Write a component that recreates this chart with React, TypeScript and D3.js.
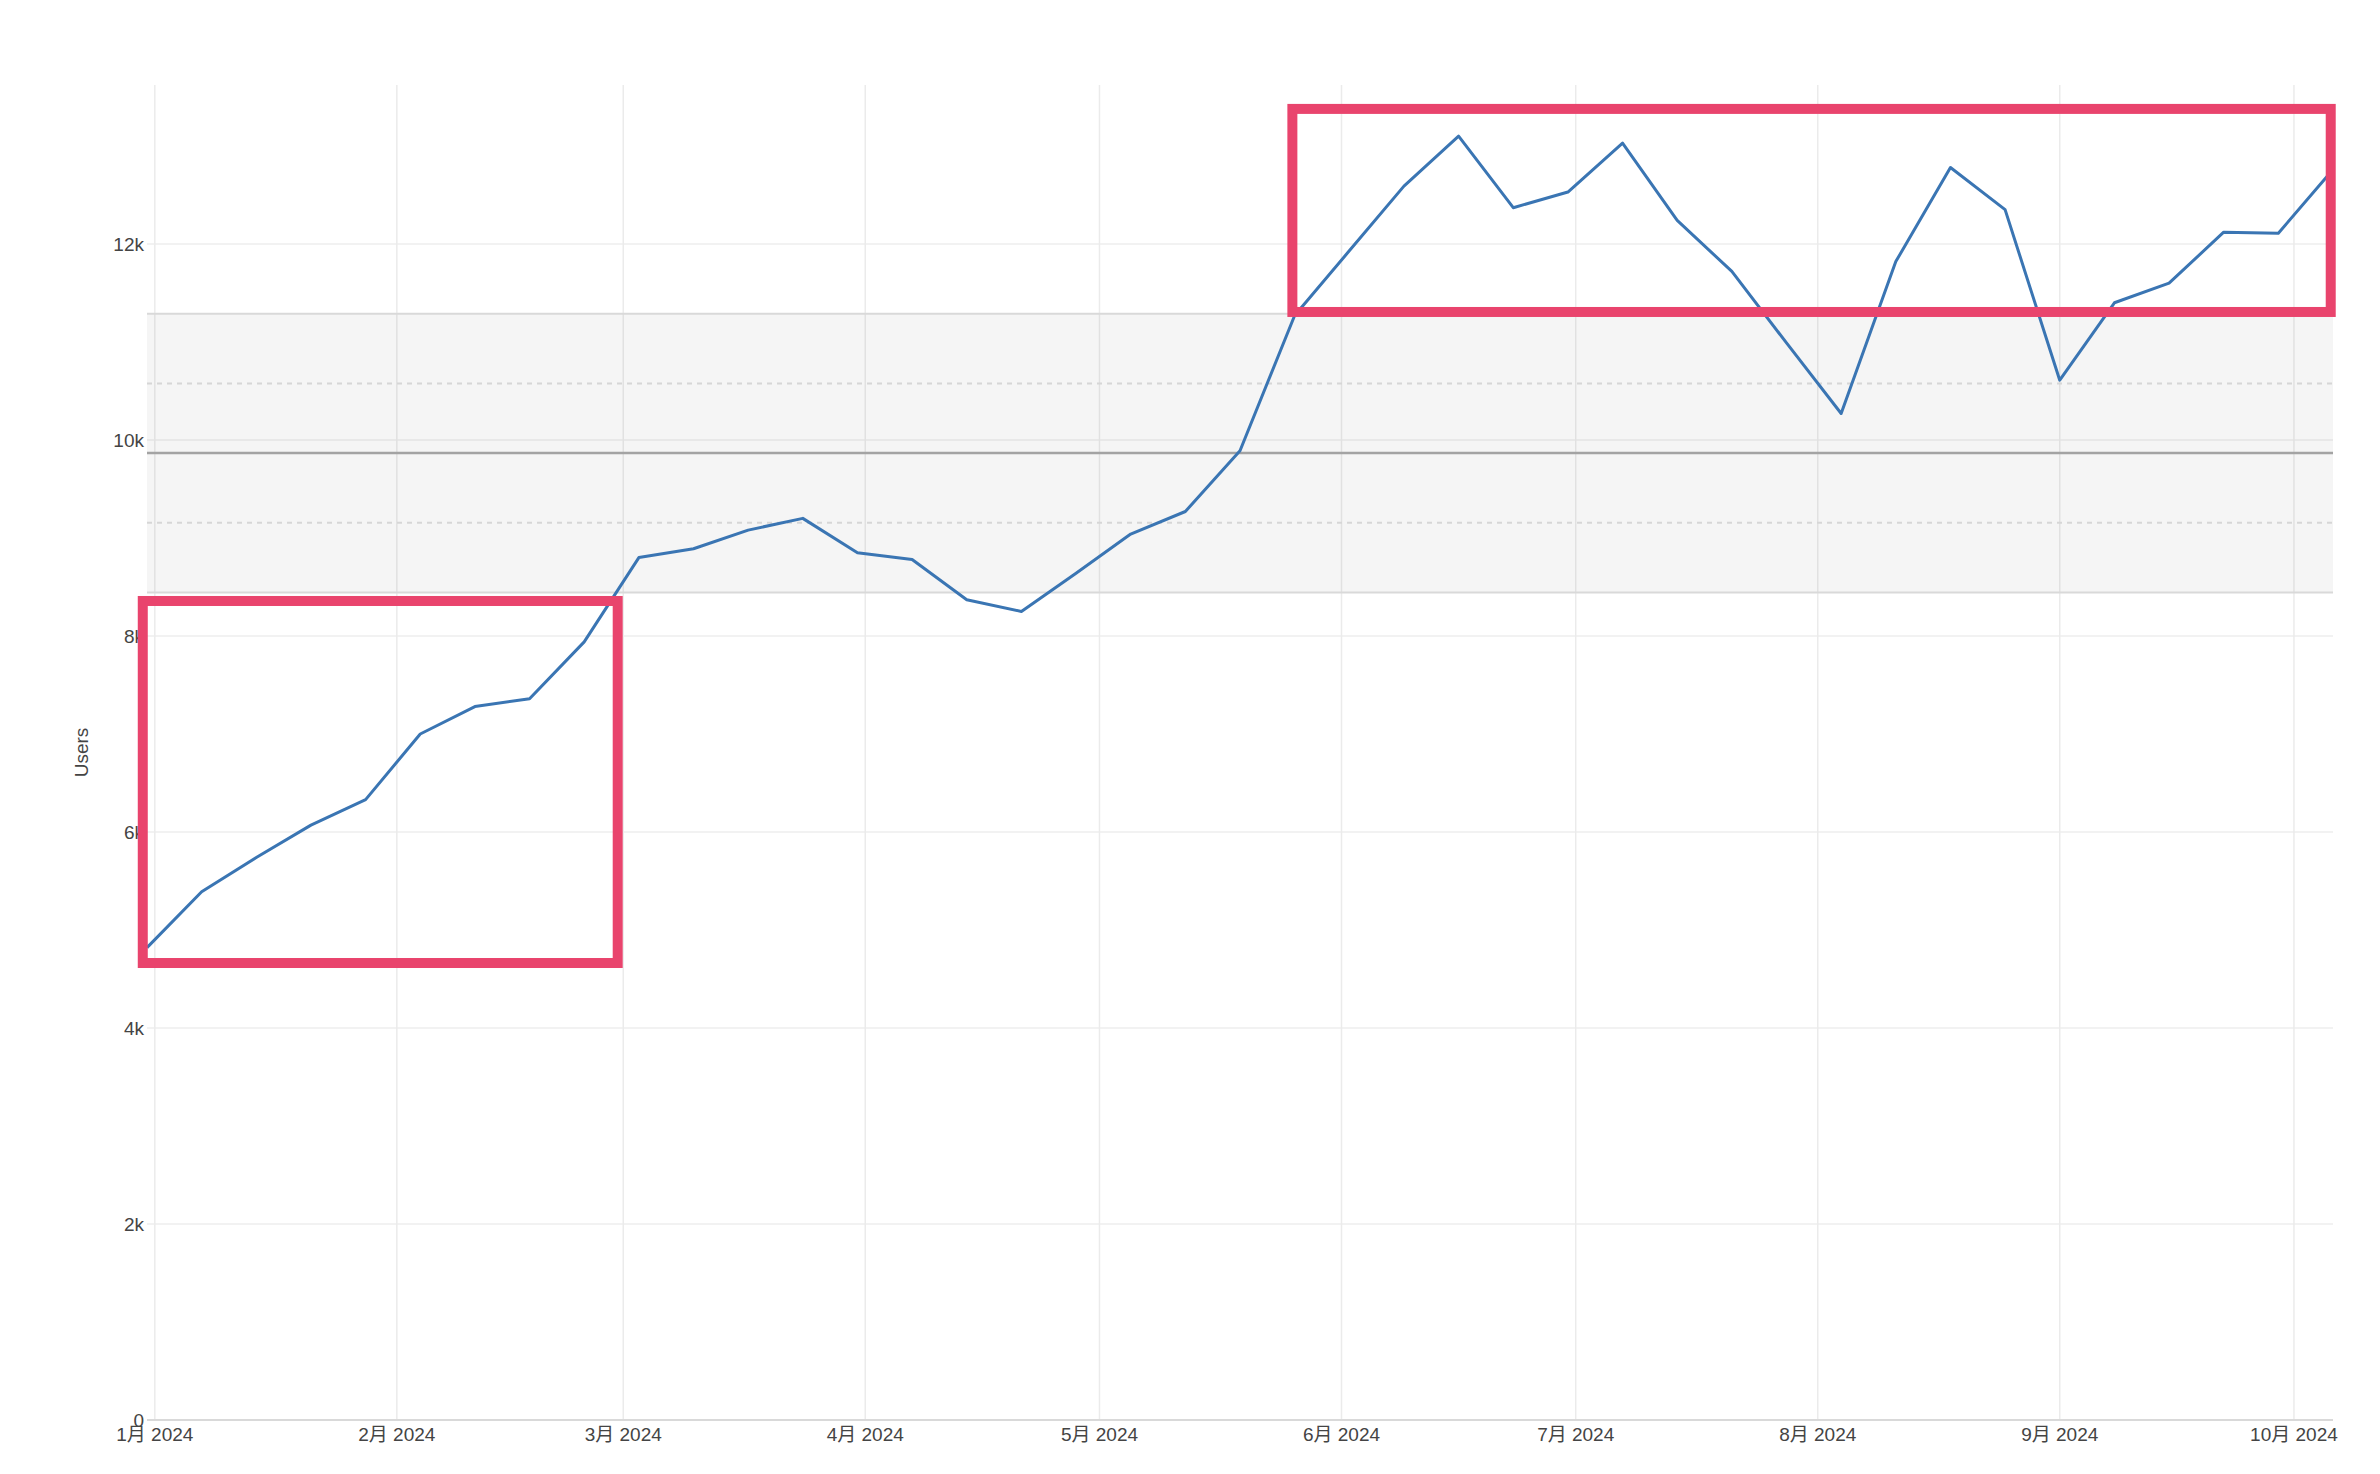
import React, { useEffect } from "react";
import * as d3 from "d3";

// ---- data ----
const weekDates: string[] = [
  "2023-12-31", "2024-01-07", "2024-01-14", "2024-01-21", "2024-01-28",
  "2024-02-04", "2024-02-11", "2024-02-18", "2024-02-25",
  "2024-03-03", "2024-03-10", "2024-03-17", "2024-03-24", "2024-03-31",
  "2024-04-07", "2024-04-14", "2024-04-21", "2024-04-28",
  "2024-05-05", "2024-05-12", "2024-05-19", "2024-05-26",
  "2024-06-02", "2024-06-09", "2024-06-16", "2024-06-23", "2024-06-30",
  "2024-07-07", "2024-07-14", "2024-07-21", "2024-07-28",
  "2024-08-04", "2024-08-11", "2024-08-18", "2024-08-25",
  "2024-09-01", "2024-09-08", "2024-09-15", "2024-09-22", "2024-09-29",
  "2024-10-06",
];

const users: number[] = [
  4820, 5390, 5740, 6070, 6330, 7000, 7280, 7360, 7940,
  8800, 8890, 9080, 9200, 8850, 8780, 8370, 8250, 8640,
  9040, 9270, 9890, 11270, 11930, 12590, 13100, 12370, 12530,
  13030, 12240, 11720, 10990, 10270, 11820, 12780, 12350,
  10610, 11400, 11600, 12120, 12110, 12760,
];

const monthTicks: string[] = [
  "2024-01-01", "2024-02-01", "2024-03-01", "2024-04-01", "2024-05-01",
  "2024-06-01", "2024-07-01", "2024-08-01", "2024-09-01", "2024-10-01",
];
const monthLabels: string[] = [
  "1月 2024", "2月 2024", "3月 2024", "4月 2024", "5月 2024",
  "6月 2024", "7月 2024", "8月 2024", "9月 2024", "10月 2024",
];

const yTicks: number[] = [0, 2000, 4000, 6000, 8000, 10000, 12000];
const yTickLabels: string[] = ["0", "2k", "4k", "6k", "8k", "10k", "12k"];

// control band: mean, ±1 sigma (dotted), ±2 sigma (solid edges)
const bandMean = 9866;
const bandSigma = 711;

// highlight boxes (data space)
const boxX0: string[] = ["2023-12-30T11:00", "2024-05-25T17:00"];
const boxX1: string[] = ["2024-02-29T07:00", "2024-10-05T17:00"];
const boxY0: number[] = [4663, 11306];
const boxY1: number[] = [8357, 13378];

const yAxisTitle = "Users";

// ---- layout ----
const W = 2380;
const H = 1474;
const plotLeft = 147;
const plotRight = 2333;
const plotTop = 85;
const plotBottom = 1420;

const FONT = "'Liberation Sans', Arial, Helvetica, 'Noto Sans CJK SC', sans-serif";

export default function App() {
  useEffect(() => {
    document.body.style.margin = "0";
  }, []);

  const parse = (s: string) => new Date(s);
  const dates = weekDates.map(parse);

  const x = d3
    .scaleTime()
    .domain([dates[0], dates[dates.length - 1]])
    .range([plotLeft, plotRight]);
  const y = d3.scaleLinear().domain([0, 13622]).range([plotBottom, plotTop]);

  const line = d3
    .line<number>()
    .x((_, i) => x(dates[i]))
    .y((d) => y(d));

  const pathD = line(users) || "";

  const bandLines = [
    { v: bandMean + 2 * bandSigma, stroke: "#d9d9d9", dash: "none", w: 2 },
    { v: bandMean + bandSigma, stroke: "#d6d6d6", dash: "5,5", w: 2 },
    { v: bandMean, stroke: "#a3a3a3", dash: "none", w: 2.5 },
    { v: bandMean - bandSigma, stroke: "#d6d6d6", dash: "5,5", w: 2 },
    { v: bandMean - 2 * bandSigma, stroke: "#d9d9d9", dash: "none", w: 2 },
  ];

  return (
    <div style={{ position: "absolute", left: 0, top: 0, width: W, height: H }}>
      <svg width={W} height={H} style={{ display: "block" }} fontFamily={FONT}>
        <rect x={0} y={0} width={W} height={H} fill="#ffffff" />

        {/* horizontal grid */}
        {yTicks.map((t) => (
          <line
            key={"hg" + t}
            x1={plotLeft}
            x2={plotRight}
            y1={y(t)}
            y2={y(t)}
            stroke="#eeeeee"
            strokeWidth={1.5}
          />
        ))}
        {/* vertical grid */}
        {monthTicks.map((m) => (
          <line
            key={"vg" + m}
            x1={x(parse(m))}
            x2={x(parse(m))}
            y1={plotTop}
            y2={plotBottom}
            stroke="#ebebeb"
            strokeWidth={1.5}
          />
        ))}

        {/* control band */}
        <rect
          x={plotLeft}
          width={plotRight - plotLeft}
          y={y(bandMean + 2 * bandSigma)}
          height={y(bandMean - 2 * bandSigma) - y(bandMean + 2 * bandSigma)}
          fill="rgba(0,0,0,0.04)"
        />
        {bandLines.map((b, i) => (
          <line
            key={"bl" + i}
            x1={plotLeft}
            x2={plotRight}
            y1={y(b.v)}
            y2={y(b.v)}
            stroke={b.stroke}
            strokeWidth={b.w}
            strokeDasharray={b.dash}
          />
        ))}

        {/* x axis line */}
        <line
          x1={plotLeft}
          x2={plotRight}
          y1={plotBottom}
          y2={plotBottom}
          stroke="#d9d9d9"
          strokeWidth={2}
        />

        {/* y tick labels */}
        {yTicks.map((t, i) => (
          <text
            key={"yt" + t}
            x={plotLeft - 3}
            y={y(t)}
            dy="0.35em"
            textAnchor="end"
            fontSize={19}
            fill="#444"
          >
            {yTickLabels[i]}
          </text>
        ))}

        {/* x tick labels */}
        {monthTicks.map((m, i) => (
          <text
            key={"xt" + m}
            x={x(parse(m))}
            y={plotBottom + 21}
            textAnchor="middle"
            fontSize={19}
            fill="#444"
          >
            {monthLabels[i]}
          </text>
        ))}

        {/* y axis title */}
        <text
          transform={`translate(88, ${(plotTop + plotBottom) / 2}) rotate(-90)`}
          textAnchor="middle"
          fontSize={19}
          fill="#444"
        >
          {yAxisTitle}
        </text>

        {/* data line */}
        <path d={pathD} fill="none" stroke="#3a75b3" strokeWidth={3} strokeLinejoin="round" />

        {/* highlight boxes */}
        {boxX0.map((x0, i) => {
          const px0 = x(parse(x0));
          const px1 = x(parse(boxX1[i]));
          const py0 = y(boxY1[i]);
          const py1 = y(boxY0[i]);
          return (
            <rect
              key={"box" + i}
              x={px0}
              y={py0}
              width={px1 - px0}
              height={py1 - py0}
              fill="none"
              stroke="#e9446d"
              strokeWidth={10}
            />
          );
        })}
      </svg>
    </div>
  );
}
